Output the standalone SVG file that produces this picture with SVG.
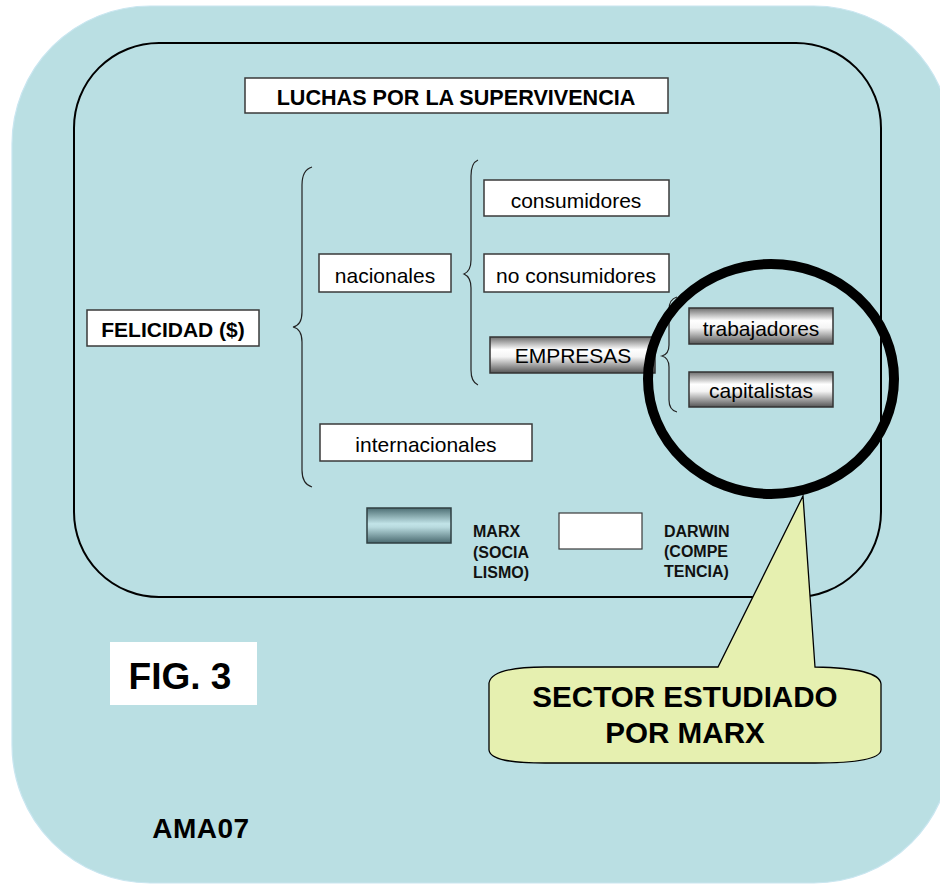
<svg xmlns="http://www.w3.org/2000/svg" width="940" height="884" viewBox="0 0 940 884">
<defs>
<linearGradient id="gGray" x1="0" y1="0" x2="0" y2="1">
<stop offset="0" stop-color="#6e6e6e"/>
<stop offset="0.35" stop-color="#ffffff"/>
<stop offset="0.55" stop-color="#f4f4f4"/>
<stop offset="1" stop-color="#555555"/>
</linearGradient>
<linearGradient id="gTeal" x1="0" y1="0" x2="0" y2="1">
<stop offset="0" stop-color="#4d6f74"/>
<stop offset="0.45" stop-color="#c2e4e8"/>
<stop offset="0.55" stop-color="#b8dade"/>
<stop offset="1" stop-color="#4a6a70"/>
</linearGradient>
<style>
.box{fill:#ffffff;stroke:#3a3a3a;stroke-width:1.5}
.gbox{fill:url(#gGray);stroke:#333333;stroke-width:1.5}
.t{font-family:"Liberation Sans",Arial,sans-serif;font-size:21px;fill:#000;text-anchor:middle}
.b{font-weight:bold}
.leg{font-family:"Liberation Sans",Arial,sans-serif;font-size:16px;font-weight:bold;fill:#111}
.brace{fill:none;stroke:#222;stroke-width:1.2}
</style>
</defs>
<rect x="0" y="0" width="940" height="884" fill="#ffffff"/>
<rect id="background" x="12" y="6" width="940" height="877" rx="138" ry="138" fill="#badfe3" stroke="#c9e6f0" stroke-width="1.2"/>
<rect id="frame" x="74" y="43" width="807" height="554" rx="85" ry="85" fill="none" stroke="#000" stroke-width="2"/>

<g id="title">
<rect class="box" x="245" y="78" width="423" height="35"/>
<text class="t b" x="456" y="105" style="font-size:21.6px">LUCHAS POR LA SUPERVIVENCIA</text>
</g>
<g id="felicidad">
<rect class="box" x="87" y="310" width="172" height="36"/>
<text class="t b" x="173" y="337">FELICIDAD ($)</text>
</g>
<g id="nacionales">
<rect class="box" x="319" y="254" width="132" height="38"/>
<text class="t" x="385" y="283">nacionales</text>
</g>
<g id="internacionales">
<rect class="box" x="320" y="424" width="212" height="37"/>
<text class="t" x="426" y="452">internacionales</text>
</g>
<g id="consumidores">
<rect class="box" x="484" y="180" width="185" height="36"/>
<text class="t" x="576" y="208">consumidores</text>
</g>
<g id="noconsumidores">
<rect class="box" x="484" y="254" width="185" height="38"/>
<text class="t" x="576" y="283">no consumidores</text>
</g>
<g id="empresas">
<rect class="gbox" x="490" y="337" width="165" height="36"/>
<text class="t" x="573" y="363">EMPRESAS</text>
</g>
<g id="trabajadores">
<rect class="gbox" x="689" y="308" width="144" height="36"/>
<text class="t" x="761" y="336">trabajadores</text>
</g>
<g id="capitalistas">
<rect class="gbox" x="689" y="372" width="144" height="35"/>
<text class="t" x="761" y="398">capitalistas</text>
</g>

<g id="connectors">
<path class="brace" d="M312,167 Q302,170 302,185 L302,312 Q302,325 293,327 Q302,329 302,342 L302,470 Q302,484 312,487"/>
<path class="brace" d="M478,160 Q471,163 471,176 L471,260 Q471,271 464,274 Q471,277 471,288 L471,370 Q471,382 478,385"/>
<path class="brace" d="M677,297 Q669,299 669,310 L669,345 Q669,354 662,356 Q669,358 669,367 L669,400 Q669,410 677,412" stroke="#3a4a50"/>
</g>

<g id="legend-marx">
<rect x="367" y="508" width="84" height="35" fill="url(#gTeal)" stroke="#2f3f42" stroke-width="1.5"/>
<text class="leg" x="473" y="537">MARX</text>
<text class="leg" x="473" y="558">(SOCIA</text>
<text class="leg" x="473" y="578">LISMO)</text>
</g>
<g id="legend-darwin">
<rect x="559" y="513" width="83" height="36" fill="#ffffff" stroke="#3a3a3a" stroke-width="1.2"/>
<text class="leg" x="664" y="537">DARWIN</text>
<text class="leg" x="664" y="557">(COMPE</text>
<text class="leg" x="664" y="577">TENCIA)</text>
</g>

<g id="circle">
<ellipse cx="771" cy="379" rx="123" ry="115" fill="none" stroke="#000" stroke-width="10"/>
</g>

<g id="callout">
<path d="M489,683 C491,671 515,667 545,667 L718,667 L803,496 L815,667 C858,668 880,673 881,684 L881,750 C880,759 858,763 815,763 L545,763 C512,763 490,760 489,750 Z" fill="#e6f0b0" stroke="#000" stroke-width="1.3"/>
<text class="t b" x="685" y="707" style="font-size:29.6px">SECTOR ESTUDIADO</text>
<text class="t b" x="685" y="743" style="font-size:29.6px">POR MARX</text>
</g>

<g id="fig3">
<rect x="110" y="642" width="147" height="63" fill="#ffffff"/>
<text class="t b" x="180" y="689" style="font-size:37px">FIG. 3</text>
</g>
<g id="ama07">
<text class="t b" x="201" y="838" style="font-size:28px;letter-spacing:0.5px">AMA07</text>
</g>
</svg>
